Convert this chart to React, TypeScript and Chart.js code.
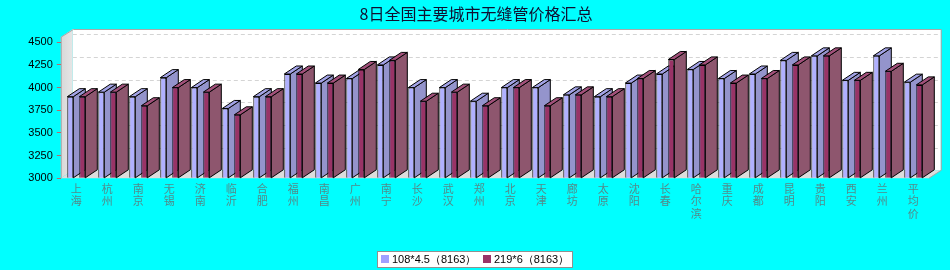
import React, { useEffect, useRef } from "react";
import { Chart, registerables } from "chart.js";

Chart.register(...registerables);

const TITLE = "8日全国主要城市无缝管价格汇总";
const cities = [
  "上海", "杭州", "南京", "无锡", "济南", "临沂", "合肥", "福州", "南昌", "广州",
  "南宁", "长沙", "武汉", "郑州", "北京", "天津", "廊坊", "太原", "沈阳", "长春",
  "哈尔滨", "重庆", "成都", "昆明", "贵阳", "西安", "兰州", "平均价",
];
const series1Label = "108*4.5（8163）";
const series2Label = "219*6（8163）";
const series1 = [
  3900, 3950, 3900, 4110, 4000, 3770, 3900, 4150, 4050, 4100,
  4250, 4000, 4000, 3850, 4000, 4000, 3920, 3900, 4050, 4150,
  4200, 4100, 4150, 4300, 4350, 4080, 4350, 4060,
];
const series2 = [
  3900, 3950, 3800, 4000, 3950, 3700, 3900, 4150, 4050, 4200,
  4300, 3850, 3950, 3800, 4000, 3800, 3920, 3900, 4100, 4310,
  4250, 4050, 4100, 4250, 4350, 4080, 4180, 4030,
];
const yTicks = [3000, 3250, 3500, 3750, 4000, 4250, 4500];
const yMin = 3000;
const yMax = 4558;

const DX = 12;
const DY = -8;

const COLORS = [
  { front: "#B0B0FF", side: "#9494CC", top: "#A2A2E6" },
  { front: "#993366", side: "#8E566E", top: "#A2507A" },
];

const threeD = {
  id: "threeD",
  beforeDraw(chart: any) {
    const { ctx, chartArea: a, scales } = chart;
    const y = scales.y;
    ctx.save();
    ctx.fillStyle = "#00FFFF";
    ctx.fillRect(0, 0, chart.width, chart.height);
    ctx.fillStyle = "#FFFFFF";
    ctx.fillRect(a.left + DX, a.top + DY, a.right - a.left, a.bottom - a.top);
    ctx.strokeStyle = "#D4D4D4";
    ctx.lineWidth = 1;
    ctx.setLineDash([4, 3]);
    for (const v of yTicks) {
      if (v === yMin) continue;
      const py = Math.round(y.getPixelForValue(v) + DY) + 0.5;
      ctx.beginPath();
      ctx.moveTo(a.left + DX, py);
      ctx.lineTo(a.right + DX, py);
      ctx.stroke();
    }
    ctx.setLineDash([]);
    const g = ctx.createLinearGradient(a.left, 0, a.left + DX, 0);
    g.addColorStop(0, "#D8D8D8");
    g.addColorStop(1, "#E6E6E6");
    ctx.fillStyle = g;
    ctx.beginPath();
    ctx.moveTo(a.left, a.top);
    ctx.lineTo(a.left + DX, a.top + DY);
    ctx.lineTo(a.left + DX, a.bottom + DY);
    ctx.lineTo(a.left, a.bottom);
    ctx.closePath();
    ctx.fill();
    ctx.fillStyle = "#DCDCDC";
    ctx.beginPath();
    ctx.moveTo(a.left, a.bottom);
    ctx.lineTo(a.left + DX, a.bottom + DY);
    ctx.lineTo(a.right + DX, a.bottom + DY);
    ctx.lineTo(a.right, a.bottom);
    ctx.closePath();
    ctx.fill();
    ctx.strokeStyle = "#A8A8A8";
    ctx.beginPath();
    ctx.moveTo(a.left + 0.5, a.bottom);
    ctx.lineTo(a.left + 0.5, a.top);
    ctx.lineTo(a.left + DX + 0.5, a.top + DY + 0.5);
    ctx.lineTo(a.right + DX + 0.5, a.top + DY + 0.5);
    ctx.lineTo(a.right + DX + 0.5, a.bottom + DY);
    ctx.lineTo(a.right, a.bottom);
    ctx.stroke();
    ctx.restore();
  },
  beforeDatasetsDraw(chart: any) {
    const { ctx, chartArea: a } = chart;
    const metas = [chart.getDatasetMeta(0), chart.getDatasetMeta(1)];
    ctx.save();
    ctx.lineWidth = 1;
    ctx.strokeStyle = "#000000";
    const n = metas[0].data.length;
    for (let i = 0; i < n; i++) {
      metas.forEach((m: any, di: number) => {
        const el = m.data[i];
        if (!el) return;
        const p = el.getProps(["x", "y", "base", "width"], true);
        const l = p.x - p.width / 2;
        const r = p.x + p.width / 2;
        const t = p.y;
        const b = Math.min(p.base, a.bottom);
        ctx.fillStyle = COLORS[di].side;
        ctx.beginPath();
        ctx.moveTo(r, t);
        ctx.lineTo(r + DX, t + DY);
        ctx.lineTo(r + DX, b + DY);
        ctx.lineTo(r, b);
        ctx.closePath();
        ctx.fill();
        ctx.stroke();
        ctx.fillStyle = COLORS[di].top;
        ctx.beginPath();
        ctx.moveTo(l, t);
        ctx.lineTo(r, t);
        ctx.lineTo(r + DX, t + DY);
        ctx.lineTo(l + DX, t + DY);
        ctx.closePath();
        ctx.fill();
        ctx.stroke();
      });
    }
    ctx.restore();
  },
  afterDraw(chart: any) {
    const { ctx } = chart;
    ctx.save();
    ctx.fillStyle = "#101030";
    ctx.font = '16px "Noto Sans CJK SC"';
    ctx.textAlign = "center";
    ctx.textBaseline = "middle";
    ctx.fillText(TITLE, 476, 14);
    const bx = 377.5, by = 251.5, bw = 195, bh = 16;
    ctx.fillStyle = "#FFFFFF";
    ctx.fillRect(bx, by, bw, bh);
    ctx.strokeStyle = "#909090";
    ctx.lineWidth = 1;
    ctx.strokeRect(bx, by, bw, bh);
    ctx.font = '11px "Liberation Sans"';
    ctx.textAlign = "left";
    ctx.textBaseline = "middle";
    const items = [
      { label: chart.data.datasets[0].label, color: "#A0A0FF", x: 381 },
      { label: chart.data.datasets[1].label, color: "#993366", x: 483 },
    ];
    for (const it of items) {
      ctx.fillStyle = it.color;
      ctx.fillRect(it.x, 255, 8, 8);
      ctx.fillStyle = "#000000";
      ctx.fillText(it.label, it.x + 11, 259.5);
    }
    ctx.restore();
  },
};

export default function App() {
  const ref = useRef<HTMLCanvasElement>(null);
  useEffect(() => {
    document.body.style.margin = "0";
    document.body.style.background = "#00FFFF";
    const chart = new Chart(ref.current as HTMLCanvasElement, {
      type: "bar",
      data: {
        labels: cities.map((c) => c.split("")),
        datasets: [
          {
            label: series1Label,
            data: series1,
            base: yMin,
            backgroundColor: COLORS[0].front,
            borderColor: "#000000",
            borderWidth: 1,
            categoryPercentage: 24 / 31,
            barPercentage: 0.5,
          },
          {
            label: series2Label,
            data: series2,
            base: yMin,
            backgroundColor: COLORS[1].front,
            borderColor: "#000000",
            borderWidth: 1,
            categoryPercentage: 24 / 31,
            barPercentage: 0.5,
          },
        ],
      },
      options: {
        responsive: false,
        animation: false,
        devicePixelRatio: 1,
        layout: { padding: { left: 0, right: 21.2, top: 37, bottom: 0 } },
        plugins: {
          legend: { display: false },
          title: { display: false },
          tooltip: { enabled: false },
        },
        scales: {
          x: {
            grid: { display: false, drawTicks: false },
            border: { display: false },
            ticks: {
              color: "#528A8A",
              font: { family: '"Noto Sans CJK SC"', size: 11, lineHeight: 1.15 },
              padding: 4,
              minRotation: 0,
              maxRotation: 0,
              autoSkip: false,
            },
            afterFit(scale: any) {
              scale.height = 91.7;
            },
          },
          y: {
            min: yMin,
            max: yMax,
            grid: {
              drawOnChartArea: false,
              drawTicks: true,
              tickLength: 4,
              tickColor: "#B86A6A",
            },
            border: { display: false },
            ticks: {
              color: "#000000",
              font: { family: '"Liberation Sans"', size: 11 },
              padding: 4,
              callback: (v: any) => String(v),
            },
            afterBuildTicks(scale: any) {
              scale.ticks = yTicks.map((v) => ({ value: v }));
            },
            afterFit(scale: any) {
              scale.width = 60.8;
            },
          },
        },
      },
      plugins: [threeD],
    });
    return () => chart.destroy();
  }, []);
  return (
    <div style={{ width: 950, height: 270, background: "#00FFFF" }}>
      <canvas ref={ref} width={950} height={270} style={{ display: "block" }} />
    </div>
  );
}
